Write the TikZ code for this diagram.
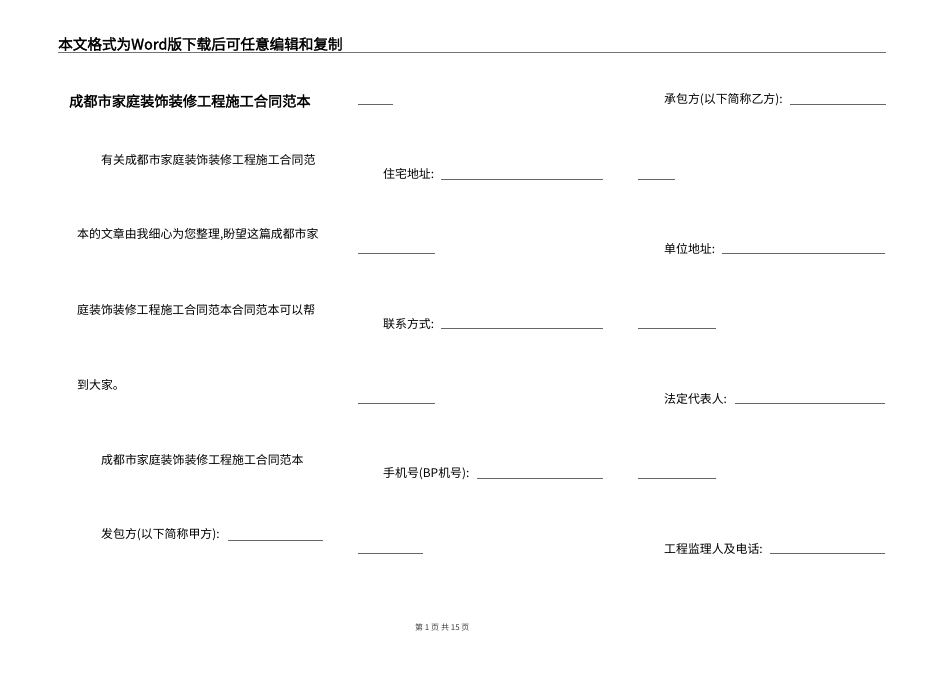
\documentclass[tikz,border=0pt]{standalone}
\usepackage{fontspec}
\newfontfamily\cjk[AutoFakeBold=2]{Noto Sans CJK SC}
\usepackage{tikz}

\tikzset{
  txt/.style={anchor=west, inner sep=0pt, font=\cjk\fontsize{11.9}{13}\selectfont},
  blank/.style={draw=black!60, line width=0.7pt},
}

\begin{document}
\begin{tikzpicture}[x=1pt, y=-1pt]
            \useasboundingbox[fill=white] (0,0) rectangle (950,672);
            % header
            \node[anchor=west, inner sep=0pt, font=\cjk\bfseries\fontsize{14.6}{16}\selectfont] (head) at (58,44) {本文格式为Word版下载后可任意编辑和复制};
            \draw[black!55, line width=1.6pt] (58,52.5) -- (886,52.5);
            \node[anchor=west, inner sep=0pt, font=\cjk\bfseries\fontsize{14.2}{15}\selectfont] (title) at (69,101) {成都市家庭装饰装修工程施工合同范本};
            % left column
            \node[txt] (p1) at (101,160) {有关成都市家庭装饰装修工程施工合同范};
            \node[txt] (p2) at (77,235) {本的文章由我细心为您整理,盼望这篇成都市家};
            \node[txt] (p3) at (77,310) {庭装饰装修工程施工合同范本合同范本可以帮};
            \node[txt] (p4) at (77,385) {到大家。};
            \node[txt] (p5) at (101,460) {成都市家庭装饰装修工程施工合同范本};
            \node[txt] (jia) at (101,535) {发包方(以下简称甲方): };
            \draw[blank] (228,540) -- (323,540);
            % middle column
            \draw[blank] (358,104) -- (393,104);
            \node[txt] (zhuzhai) at (383,174) {住宅地址: };
            \draw[blank] (441,179) -- (603,179);
            \draw[blank] (638,179) -- (675,179);
            \draw[blank] (358,253) -- (435,253);
            \node[txt] (lianxi) at (383,324) {联系方式: };
            \draw[blank] (441,328) -- (603,328);
            \draw[blank] (638,328) -- (716,328);
            \draw[blank] (358,403) -- (435,403);
            \node[txt] (shouji) at (383,474) {手机号(BP机号): };
            \draw[blank] (477,478) -- (603,478);
            \draw[blank] (638,478) -- (716,478);
            \draw[blank] (358,553) -- (423,553);
            % right column
            \node[txt] (yi) at (664,100) {承包方(以下简称乙方): };
            \draw[blank] (790,104) -- (886,104);
            \node[txt] (danwei) at (664,249) {单位地址: };
            \draw[blank] (722,253) -- (885,253);
            \node[txt] (fading) at (664,399) {法定代表人: };
            \draw[blank] (735,403) -- (885,403);
            \node[txt] (jianli) at (664,549) {工程监理人及电话: };
            \draw[blank] (770,553) -- (885,553);
            % footer
            \node[anchor=west, inner sep=0pt, font=\cjk\fontsize{8}{9}\selectfont, black!75] (foot) at (415,627) {第 1 页 共 15 页};
        \end{tikzpicture}
\end{document}
